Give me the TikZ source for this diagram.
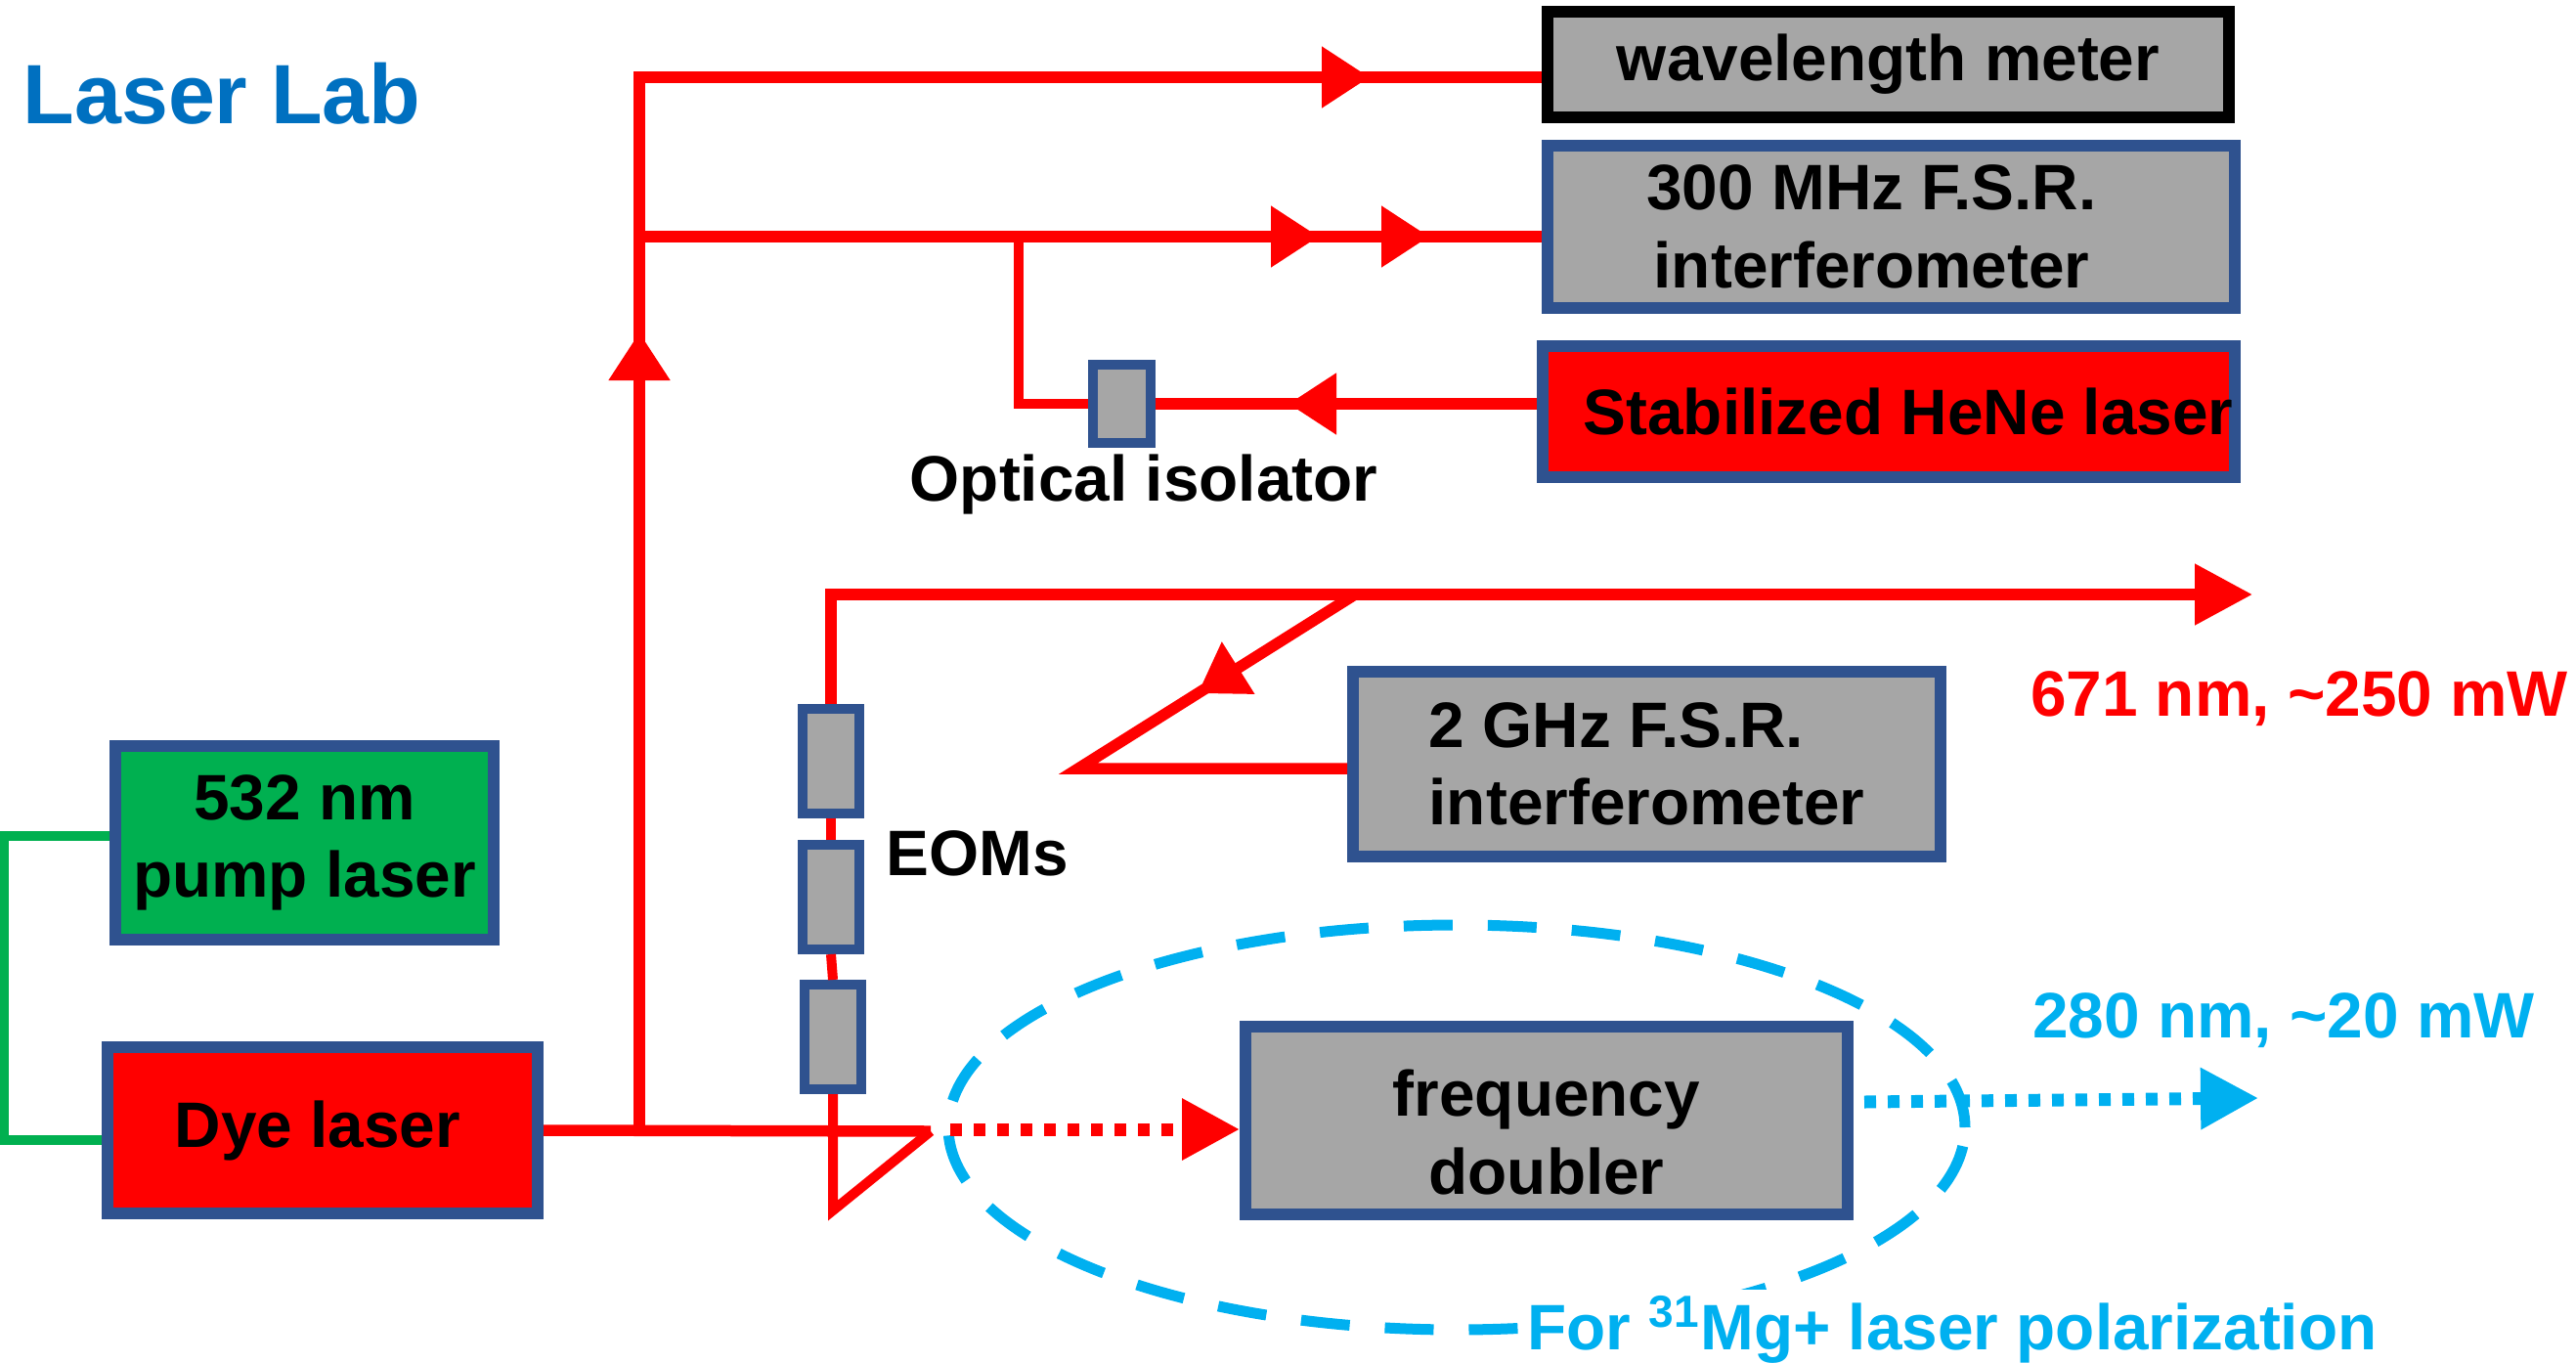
\documentclass[tikz,border=0pt]{standalone}
\usepackage{fontspec}
\setmainfont{Liberation Sans}
\usetikzlibrary{arrows.meta,positioning,calc,decorations.markings}
\definecolor{boxblue}{HTML}{2F528F}
\definecolor{devgray}{HTML}{A6A6A6}
\definecolor{beamred}{HTML}{FF0000}
\definecolor{pumpgreen}{HTML}{00B050}
\definecolor{titleblue}{HTML}{0070C0}
\definecolor{uvblue}{HTML}{00B0F0}
\newcommand{\boxfont}{\fontsize{18.7}{22.6}\selectfont\bfseries}
\tikzset{
  dev/.style={draw=boxblue, line width=1.2mm, fill=devgray, align=center, inner sep=0pt, font=\boxfont},
  optic/.style={draw=boxblue, line width=1mm, fill=devgray, inner sep=0pt, minimum width=5.8mm, minimum height=10.7mm},
  beam/.style={beamred, line width=1.15mm},
  vbeam/.style={beamred, line width=1mm},
  dotbeam/.style={line width=1.3mm, dash pattern=on 1.2mm off 1.2mm},
  pumpline/.style={pumpgreen, line width=1mm},
  ring/.style={uvblue, line width=1.1mm, dash pattern=on 5mm off 3.6mm},
  tip/.style={-{Triangle[length=5.9mm, width=6mm]}},
  flow at/.style={postaction={decorate, decoration={markings,
      mark=at position #1 with {\arrow{Triangle[length=4.9mm, width=6mm]}}}}},
  lbl/.style={font=\boxfont, inner sep=0pt, anchor=base},
}
\begin{document}
\begin{tikzpicture}
\useasboundingbox (0,0) rectangle (26.35,-13.94);

% instruments
\node[dev, draw=black, minimum width=69.7mm, minimum height=10.8mm] (wm) at (19.315,-0.66) {wavelength meter};
\node[dev, minimum width=70.3mm, minimum height=16.6mm] (fsr300) at (19.345,-2.32) {300 MHz F.S.R.\hspace*{4mm}\\interferometer\hspace*{4mm}};
\node[dev, fill=beamred, minimum width=70.8mm, minimum height=13.4mm] (hene) at (19.32,-4.21) {\hspace*{4mm}Stabilized HeNe laser};
\node[optic, minimum width=5.9mm, minimum height=8mm] (iso) at (11.475,-4.13) {};
\node[dev, align=left, minimum width=60.1mm, minimum height=18.9mm] (fsr2) at (16.845,-7.815) {2 GHz F.S.R.\\interferometer};
\node[optic] (eom1) at (8.50,-7.78) {};
\node[optic] (eom2) at (8.50,-9.175) {};
\node[optic] (eom3) at (8.52,-10.605) {};
\node[dev, fill=pumpgreen, minimum width=38.7mm, minimum height=19.8mm] (pump) at (3.115,-8.62) {532 nm\\pump laser};
\node[dev, fill=beamred, minimum width=44mm, minimum height=17mm] (dye) at (3.30,-11.56) {\raisebox{-1.2mm}{Dye laser}\hspace*{1mm}};
\node[dev, minimum width=61.6mm, minimum height=19.2mm] (doubler) at (15.82,-11.46) {};
\node[font=\boxfont, align=center, inner sep=0pt] (shgtext) at ([yshift=-1.2mm]doubler.center) {frequency\\doubler};

% beam points
\coordinate (split) at (6.54,-11.57);
\coordinate (top) at (6.54,-0.79);
\coordinate (mid) at (6.54,-2.42);
\coordinate (br) at (10.42,-2.42);
\coordinate (mirror) at (9.52,-11.57);
\coordinate (eombot) at (8.52,-12.38);
\coordinate (out) at (23.04,-6.08);
\coordinate (tap) at (13.86,-6.08);
\coordinate (kink) at (11.03,-7.86);
\coordinate (shgin) at (9.72,-11.55);
\coordinate (uvin) at (19.07,-11.27);
\coordinate (uvout) at (23.10,-11.23);

% pump
\draw[pumpline] ([yshift=0.7mm]pump.west) -- ++(-1.08,0) |- ([yshift=-1mm]dye.west);

% dye laser beams
\draw[beam] (dye.east) -- (mirror);
\draw[vbeam] (mirror) -- (eombot) -- (eom3.south);
\draw[vbeam] (eom3.north) -- (eom2.south);
\draw[vbeam] (eom2.north) -- (eom1.south);
\draw[beam, tip] (eom1.north) |- (out);
\draw[beam, flow at=1.9cm] (tap) -- (kink) -- (kink -| fsr2.west);
\draw[beam, flow at=8.17cm, flow at=18.25cm] (split) -- (top) -- (top -| wm.west);
\draw[beam, flow at=6.95cm, flow at=8.08cm] (mid) -- (mid -| fsr300.west);
\draw[vbeam] (br) |- (iso.west);
\draw[beam, flow at=2.54cm] (hene.west |- iso.east) -- (iso.east);

% frequency doubling
\draw[ring] (14.90,-11.53) ellipse [x radius=5.2, y radius=2.07];
\draw[beamred, dotbeam, tip] (shgin) -- (shgin -| doubler.west);
\draw[uvblue, dotbeam, tip] (uvin) -- (uvout);

% labels
\node[font=\fontsize{24.5}{28}\selectfont\bfseries, text=titleblue, anchor=base west, inner sep=0pt] (title) at (0.23,-1.26) {Laser Lab};
\node[lbl] (isolbl) at (11.70,-5.12) {Optical isolator};
\node[lbl] (eomlbl) at (10.00,-8.95) {EOMs};
\node[lbl, text=beamred] (redlbl) at (23.52,-7.32) {671 nm, \textasciitilde250 mW};
\node[lbl, text=uvblue] (uvlbl) at (23.36,-10.61) {280 nm, \textasciitilde20 mW};
\node[lbl, text=uvblue, fill=white, inner sep=2pt] (mglbl) at (19.97,-13.80) {For \textsuperscript{31}Mg+ laser polarization};
\end{tikzpicture}
\end{document}
